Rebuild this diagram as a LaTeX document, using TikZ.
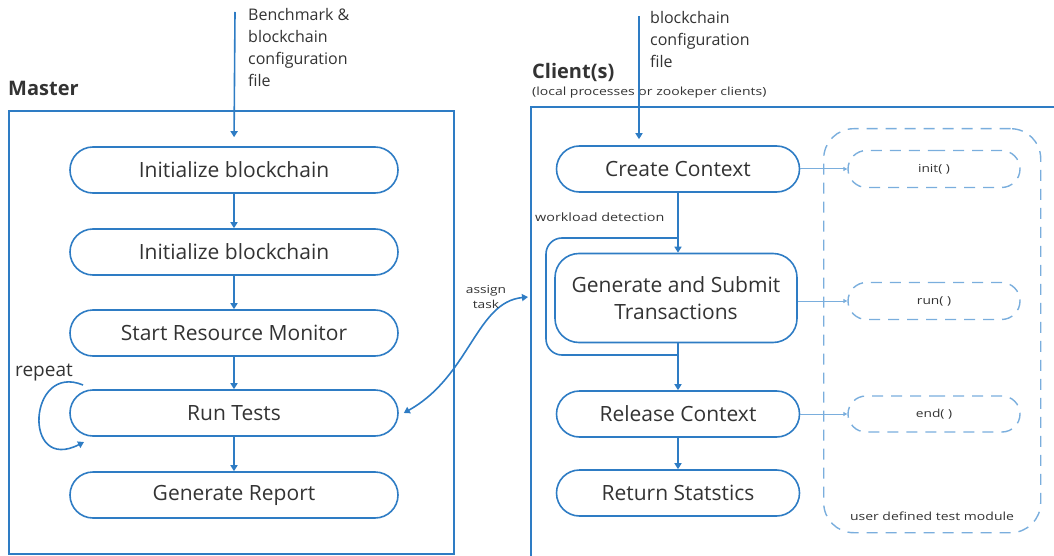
\documentclass[tikz,border=0pt]{standalone}
\usepackage{fontspec}
\setmainfont{Open Sans}
\newfontfamily\widefont[FakeStretch=1.25]{Open Sans}
\usetikzlibrary{arrows.meta,shapes.misc}
\definecolor{flowblue}{HTML}{2E7CC4}
\definecolor{lightblue}{HTML}{7AAEDD}
\definecolor{ink}{HTML}{333333}
\tikzset{
  stadium/.style={rounded rectangle, draw=flowblue, line width=1.6pt, text=ink,
    minimum width=#1, minimum height=46pt, inner sep=0pt, font=\fontsize{21}{24}\selectfont},
  stadium/.default=328pt,
  flow/.style={draw=flowblue, line width=1.6pt, -{Triangle[length=6pt,width=7pt]}},
  hook/.style={draw=lightblue, line width=1pt, -{Triangle[length=4pt,width=4pt]}},
  dashbox/.style={draw=lightblue, line width=1.4pt, dash pattern=on 11pt off 8pt},
  fnbox/.style={dashbox, rounded rectangle, minimum width=172pt, minimum height=37pt,
    inner sep=0pt, text=ink, font=\widefont\fontsize{11}{12}\selectfont},
  note/.style={text=ink, align=left, inner sep=0pt, font=\fontsize{16}{22}\selectfont},
  small/.style={text=ink, inner sep=0pt, font=\widefont\fontsize{11.2}{18}\selectfont},
  title/.style={text=ink, inner sep=0pt, font=\fontsize{20}{24}\selectfont\bfseries},
}
\begin{document}
\begin{tikzpicture}[x=1pt,y=-1pt]
\useasboundingbox (0,0) rectangle (1054,556);

% ---------------- Master ----------------
\node[title, anchor=base west] (mtitle) at (8,96) {Master};
\node[draw=flowblue, line width=1.6pt, minimum width=445pt, minimum height=443pt,
      inner sep=0pt, anchor=north west] (master) at (8,110) {};
\coordinate (min) at (235,12);
\node[note, anchor=north west] (mnote) at (248,8) {Benchmark \&\\blockchain\\configuration\\file};

\node[stadium] (m1) at (234,170) {Initialize blockchain};
\node[stadium] (m2) at (234,252) {Initialize blockchain};
\node[stadium] (m3) at (234,333) {Start Resource Monitor};
\node[stadium] (m4) at (234,413) {Run Tests};
\node[stadium] (m5) at (234,495) {Generate Report};

\draw[flow, shorten >=9pt] (min) -- (m1.north);
\draw[flow] (m1) -- (m2);
\draw[flow] (m2) -- (m3);
\draw[flow] (m3) -- (m4);
\draw[flow] (m4) -- (m5);

% repeat loop
\node[text=ink, inner sep=0pt, font=\fontsize{19}{20}\selectfont, anchor=base west] (rep) at (15,376) {repeat};
\coordinate (rs) at (83,385);
\coordinate (re) at (84,442);
\draw[flow] (rs) .. controls (28,362) and (22,474) .. (re);

% ---------------- Client(s) ----------------
\node[title, anchor=base west] (ctitle) at (532,79) {Client(s)};
\node[small, anchor=base west] (csub) at (532,96) {(local processes or zookeper clients)};
\draw[flowblue, line width=1.6pt] (1058,107) -| (531,560);
\coordinate (cin) at (639,16);
\node[note, anchor=north west] (cnote) at (650,11) {blockchain\\configuration\\file};

% test module
\node[dashbox, rounded corners=30pt, minimum width=217pt, minimum height=404pt,
      anchor=north west, inner sep=0pt] (module) at (823,128) {};
\node[small] (mlabel) at (932,516) {user defined test module};
\node[fnbox] (init) at (934,169) {init( )};
\node[fnbox] (run) at (934,301) {run( )};
\node[fnbox, minimum height=36pt] (end) at (934,414) {end( )};

\node[stadium=243pt] (c1) at (678,169) {Create Context};
\node[draw=flowblue, line width=1.6pt, rounded corners=24pt, minimum width=242pt,
      minimum height=89pt, inner sep=0pt, text=ink, align=center,
      font=\fontsize{21}{27}\selectfont] (c2) at (676,298) {Generate and Submit\\Transactions};
\node[stadium=243pt] (c3) at (678,414) {Release Context};
\node[stadium=243pt] (c4) at (678,493) {Return Statstics};

\draw[flow, shorten >=6pt] (cin) -- (cin |- c1.north);
\draw[flow] (c1.south) -- (c1.south |- c2.north);
\draw[flow] (c1.south |- c2.south) -- (c3.north);
\draw[flow] (c3) -- (c4);

% workload detection loop
\node[small, anchor=base west, font=\widefont\fontsize{11.5}{18}\selectfont] (wl) at (535,222) {workload detection};
\coordinate (wa) at (678,238);
\coordinate (wb) at (678,355);
\draw[flowblue, line width=1.6pt, rounded corners=16pt] (wa) -- (546,238) -- (546,355) -- (wb);

% hooks into the test module
\draw[hook] (c1.east) -- (init.west);
\draw[hook] (c2.east |- run.west) -- (run.west);
\draw[hook] (c3.east) -- (end.west);

% assign task
\coordinate (at) at (528,297);
\draw[draw=flowblue, line width=1.6pt, {Triangle[length=6pt,width=7pt]}-{Triangle[length=6pt,width=7pt]}]
  ([xshift=5pt]m4.east) .. controls (470,376) and (476,302) .. (at);
\node[small, align=center, font=\widefont\fontsize{11}{15}\selectfont] (asg) at (486,297) {assign\\task};
\end{tikzpicture}
\end{document}
